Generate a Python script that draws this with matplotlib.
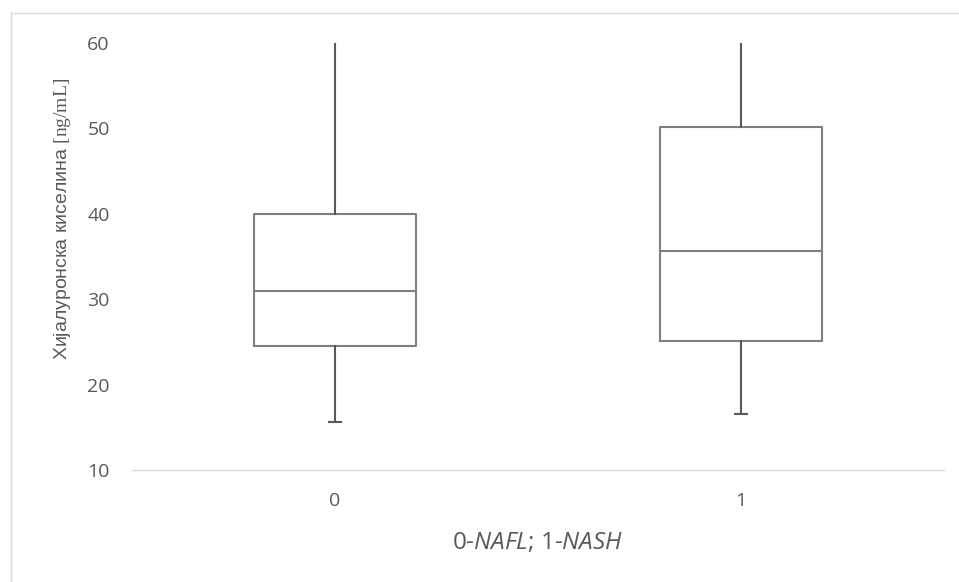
import matplotlib.pyplot as plt
from matplotlib.lines import Line2D

# box statistics
groups = ["0", "1"]
whisker_low = [15.6, 16.5]
q1 = [24.5, 25.1]
median = [31.0, 35.6]
q3 = [40.0, 50.2]
whisker_high = [60.0, 60.0]

TEXT_GREY = "#595959"
BOX_GREY = "#7f7f7f"

plt.rcParams["font.family"] = ["Open Sans", "DejaVu Sans"]
plt.rcParams["mathtext.fontset"] = "custom"
plt.rcParams["mathtext.rm"] = "Liberation Serif"
plt.rcParams["mathtext.it"] = "Open Sans:italic"

fig = plt.figure(figsize=(9.59, 5.82), dpi=100)
ax = fig.add_axes([132 / 959, 1 - 470 / 582, 812 / 959, 427 / 582])

stats = []
for i, name in enumerate(groups):
    stats.append({
        "label": name,
        "whislo": whisker_low[i],
        "q1": q1[i],
        "med": median[i],
        "q3": q3[i],
        "whishi": whisker_high[i],
        "fliers": [],
    })

ax.bxp(
    stats,
    positions=range(len(groups)),
    widths=0.4,
    showcaps=False,
    boxprops=dict(color=BOX_GREY, linewidth=1.5),
    medianprops=dict(color=BOX_GREY, linewidth=1.5),
    whiskerprops=dict(color=TEXT_GREY, linewidth=1.5),
)
# caps only on the lower whiskers
for i in range(len(groups)):
    ax.plot([i - 0.015, i + 0.015], [whisker_low[i]] * 2, color=TEXT_GREY, linewidth=1.5)

ax.set_xlim(-0.5, 1.5)
ax.set_ylim(10, 60)
ax.set_yticks([10, 20, 30, 40, 50, 60])
ax.set_xticks(range(len(groups)), groups)

for side in ["top", "right", "left"]:
    ax.spines[side].set_visible(False)
ax.spines["bottom"].set_color("#d9d9d9")
ax.spines["bottom"].set_linewidth(1.0)
ax.tick_params(axis="both", length=0, labelsize=14, labelcolor=TEXT_GREY)
ax.tick_params(axis="y", pad=16)
ax.tick_params(axis="x", pad=16)

fig.text(538 / 959, 1 - 543 / 582, r"0-$\mathit{NAFL}$; 1-$\mathit{NASH}$",
         ha="center", va="center", fontsize=17.5, color=TEXT_GREY)
fig.text(63 / 959, 1 - 219 / 582, r"Хијалуронска киселина $\mathrm{[ng/mL]}$",
         rotation=90, ha="center", va="center", fontsize=14, color=TEXT_GREY,
         family=["Liberation Sans", "DejaVu Sans"])

# outer chart frame
fig.add_artist(Line2D([11 / 959, 11 / 959], [0, 1 - 13 / 582], color="#d9d9d9", linewidth=1.0))
fig.add_artist(Line2D([11 / 959, 1], [1 - 13 / 582, 1 - 13 / 582], color="#d9d9d9", linewidth=1.0))

fig.savefig("out.png", dpi=100)
